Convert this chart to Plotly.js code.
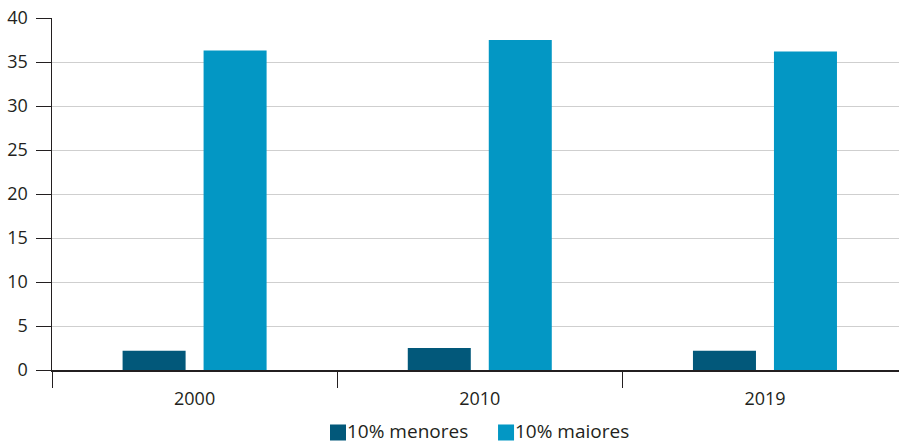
<!DOCTYPE html>
<html>
<head>
<meta charset="utf-8">
<script src="https://cdn.plot.ly/plotly-3.0.1.min.js"></script>
<style>
  html, body { margin: 0; padding: 0; background: #ffffff; }
  #chart { width: 899px; height: 446px; }
</style>
</head>
<body>
<div id="chart"></div>
<script>
// Share held by the poorest and richest 10%, by year
const years = ['2000', '2010', '2019'];
const menores = [2.2, 2.5, 2.2];
const maiores = [36.3, 37.5, 36.2];
const seriesNames = ['10% menores', '10% maiores'];
const seriesColors = ['#02587a', '#0397c4'];
const yTicks = [0, 5, 10, 15, 20, 25, 30, 35, 40];

const textColor = '#231f20';
const fontFamily = '"Open Sans", "Noto Sans", sans-serif';

const traces = [
  {
    type: 'bar',
    name: seriesNames[0],
    x: years,
    y: menores,
    marker: { color: seriesColors[0], line: { width: 0 } }
  },
  {
    type: 'bar',
    name: seriesNames[1],
    x: years,
    y: maiores,
    marker: { color: seriesColors[1], line: { width: 0 } }
  }
];

// Bottom legend: square swatches with the series name to their right
const legendSwatchX = [0.3282, 0.5266];
const swatchW = 0.0189;
const shapes = [];
const annotations = [];
seriesNames.forEach((name, i) => {
  shapes.push({
    type: 'rect', xref: 'paper', yref: 'paper',
    x0: legendSwatchX[i], x1: legendSwatchX[i] + swatchW,
    y0: -0.2003, y1: -0.1548,
    fillcolor: seriesColors[i], line: { width: 0 }
  });
  annotations.push({
    xref: 'paper', yref: 'paper',
    x: legendSwatchX[i] + swatchW, y: -0.2131,
    xanchor: 'left', yanchor: 'bottom',
    showarrow: false, text: name,
    font: { family: fontFamily, size: 19, color: textColor },
    borderpad: 0
  });
});

const layout = {
  width: 899,
  height: 446,
  margin: { l: 52, r: 0, t: 18, b: 76 },
  paper_bgcolor: '#ffffff',
  plot_bgcolor: '#ffffff',
  font: { family: fontFamily, size: 18, color: textColor },
  barmode: 'group',
  bargap: 0.432,
  bargroupgap: 0.222,
  showlegend: false,
  shapes: shapes,
  annotations: annotations,
  xaxis: {
    type: 'category',
    range: [-0.5, 2.47],
    showline: true,
    linecolor: '#231f20',
    linewidth: 1.5,
    ticks: 'outside',
    tickson: 'boundaries',
    ticklen: 16,
    tickcolor: '#231f20',
    tickwidth: 1,
    showgrid: false,
    zeroline: false,
    tickfont: { family: fontFamily, size: 18, color: textColor },
    ticklabelstandoff: 12
  },
  yaxis: {
    range: [0, 40],
    tickvals: yTicks,
    showline: true,
    linecolor: '#231f20',
    linewidth: 1.5,
    ticks: 'outside',
    ticklen: 15,
    tickcolor: '#231f20',
    tickwidth: 1,
    showgrid: true,
    gridcolor: '#cfcfcf',
    gridwidth: 1,
    zeroline: false,
    tickfont: { family: fontFamily, size: 18, color: textColor },
    ticklabelstandoff: 4
  }
};

Plotly.newPlot('chart', traces, layout, { displayModeBar: false, staticPlot: true });
</script>
</body>
</html>
